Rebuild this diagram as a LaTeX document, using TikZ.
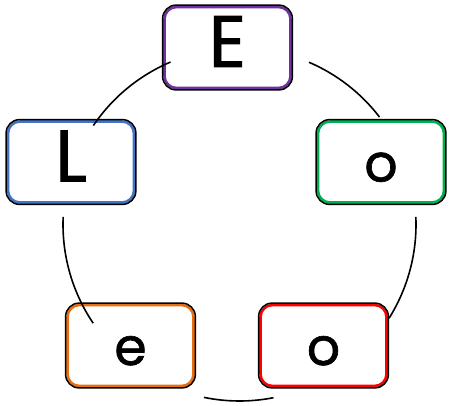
\documentclass[tikz,border=0pt]{standalone}
\usepackage{fontspec}
\setmainfont{Poppins}[FakeBold=1.2]
\usetikzlibrary{shadows}
\definecolor{cpurple}{RGB}{112,48,160}
\definecolor{cblue}{RGB}{68,114,196}
\definecolor{cgreen}{RGB}{0,176,80}
\definecolor{corange}{RGB}{230,110,20}
\definecolor{cred}{RGB}{255,0,0}
\begin{document}
\begin{tikzpicture}[x=1pt,y=1pt,
  cbox/.style={draw=#1, line width=2.6pt, fill=white, rounded corners=12pt,
    minimum width=126pt, minimum height=81pt, inner sep=0pt,
    text height=39pt, text depth=0pt,
    drop shadow={shadow xshift=1.5pt, shadow yshift=-2pt, opacity=0.35, fill=black}},
  bigtxt/.style={font=\fontsize{73}{73}\selectfont},
  smalltxt/.style={font=\fontsize{52}{52}\selectfont},
  rim/.style={draw=black, line width=1.5pt, rounded corners=13.5pt},
  ring/.style={draw=black, line width=1.6pt}]
\useasboundingbox (0,0) rectangle (449,405);
\node[cbox=cpurple, bigtxt] (E) at (227.5,357.5) {E};
\node[cbox=cblue, bigtxt] (L) at (71,243) {L};
\node[cbox=cgreen, smalltxt] (G) at (381,243) {o};
\node[cbox=corange, smalltxt] (e) at (130.5,59.5) {e};
\node[cbox=cred, smalltxt] (R) at (323.5,59.5) {o};
\foreach \n in {E,L,G,e,R}
  \draw[rim] ([shift={(-0.6,-0.6)}]\n.south west) rectangle ([shift={(0.6,0.6)}]\n.north east);
\coordinate (C) at (239.5,180.5);
\draw[ring] ([shift={(113:176.5)}]C) arc[start angle=113, end angle=145.9, radius=176.5];
\draw[ring] ([shift={(66.8:176.5)}]C) arc[start angle=66.8, end angle=37.5, radius=176.5];
\draw[ring] ([shift={(177.5:176.5)}]C) arc[start angle=177.5, end angle=214, radius=176.5];
\draw[ring] ([shift={(2.5:176.5)}]C) arc[start angle=2.5, end angle=-32.1, radius=176.5];
\draw[ring] ([shift={(258.4:176.5)}]C) arc[start angle=258.4, end angle=281.1, radius=176.5];
\end{tikzpicture}
\end{document}
